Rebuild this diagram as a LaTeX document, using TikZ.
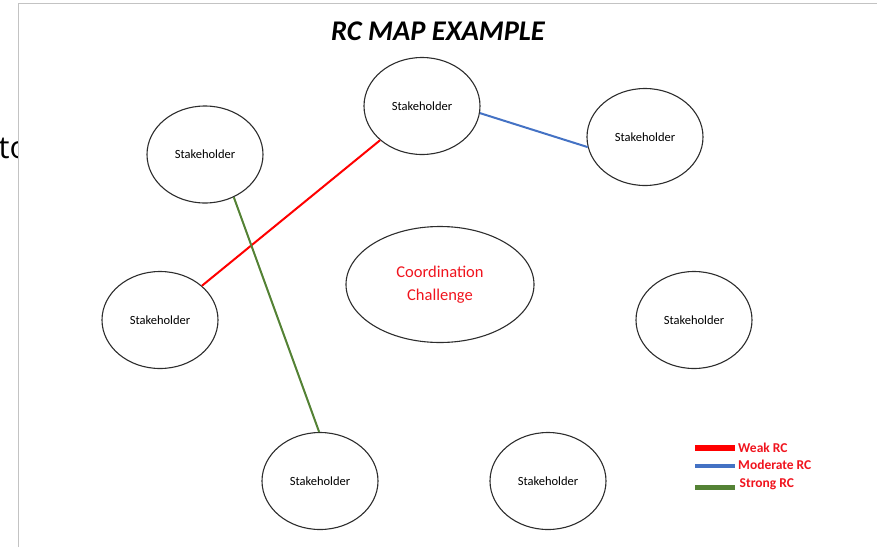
\documentclass[tikz,border=0pt]{standalone}
\usepackage{fontspec}
\setmainfont{Carlito}
\newfontfamily\tofont{Open Sans}
\usetikzlibrary{shapes.geometric}
\definecolor{framegray}{RGB}{195,195,195}
\definecolor{edgegray}{RGB}{45,45,45}
\definecolor{weakred}{RGB}{255,0,0}
\definecolor{modblue}{RGB}{68,114,196}
\definecolor{stronggreen}{RGB}{84,130,53}
\definecolor{txtred}{RGB}{240,20,30}
\tikzset{
  stake/.style={ellipse, draw=edgegray, line width=1.1pt, inner sep=0pt,
    minimum width=116pt, minimum height=97pt, font=\fontsize{12.5}{14}\selectfont},
  challenge/.style={ellipse, draw=edgegray, line width=1.1pt, inner sep=0pt,
    minimum width=188pt, minimum height=116pt, align=center, text=txtred,
    font=\fontsize{16.5}{23}\selectfont},
  rcline/.style={line width=2pt},
  legbar/.style={line width=5pt},
  legtext/.style={anchor=west, inner sep=0pt, text=txtred, font=\bfseries\fontsize{13.5}{15}\selectfont},
}
\begin{document}
\begin{tikzpicture}[x=1pt,y=-1pt]
\useasboundingbox (0,0) rectangle (879,547);
% frame
\draw[framegray, line width=1pt] (18,547) -- (18,3.3) -- (877,3.3);
% clipped partial text
\begin{scope}
\clip (0,100) rectangle (17.5,200);
\node[anchor=base west, inner sep=0pt, font=\tofont\fontsize{31}{36}\selectfont] (to) at (-1.5,158) {to};
\end{scope}
% title
\node[anchor=base, inner sep=0pt, font=\bfseries\itshape\fontsize{28.5}{32}\selectfont] (title) at (438,40.5) {RC MAP EXAMPLE};
% stakeholders
\node[stake] (tl) at (205,154.5) {Stakeholder};
\node[stake] (tc) at (422,106) {Stakeholder};
\node[stake] (tr) at (645,137) {Stakeholder};
\node[stake] (lm) at (160,320) {Stakeholder};
\node[stake] (rm) at (694,320) {Stakeholder};
\node[stake] (bl) at (320,481) {Stakeholder};
\node[stake] (bc) at (548,481) {Stakeholder};
\node[challenge] (cc) at (440,284.5) {Coordination\\Challenge};
% connectors
\draw[rcline, weakred] (lm) -- (tc);
\draw[rcline, modblue] (tc.-7) -- (tr.190);
\draw[rcline, stronggreen] (tl.-56) -- (bl.91);
% legend
\coordinate (w1) at (695,448); \coordinate (w2) at (734.5,448);
\coordinate (m1) at (695,466); \coordinate (m2) at (734.5,466);
\coordinate (s1) at (695,487); \coordinate (s2) at (734.5,487);
\draw[legbar, weakred, line width=5.5pt] (w1) -- (w2);
\draw[legbar, modblue, line width=4.5pt] (m1) -- (m2);
\draw[legbar, stronggreen] (s1) -- (s2);
\node[legtext] (lw) at (738,448) {Weak RC};
\node[legtext] (lmod) at (738,464.5) {Moderate RC};
\node[legtext] (ls) at (739.5,484.5) {Strong RC};
\end{tikzpicture}
\end{document}
